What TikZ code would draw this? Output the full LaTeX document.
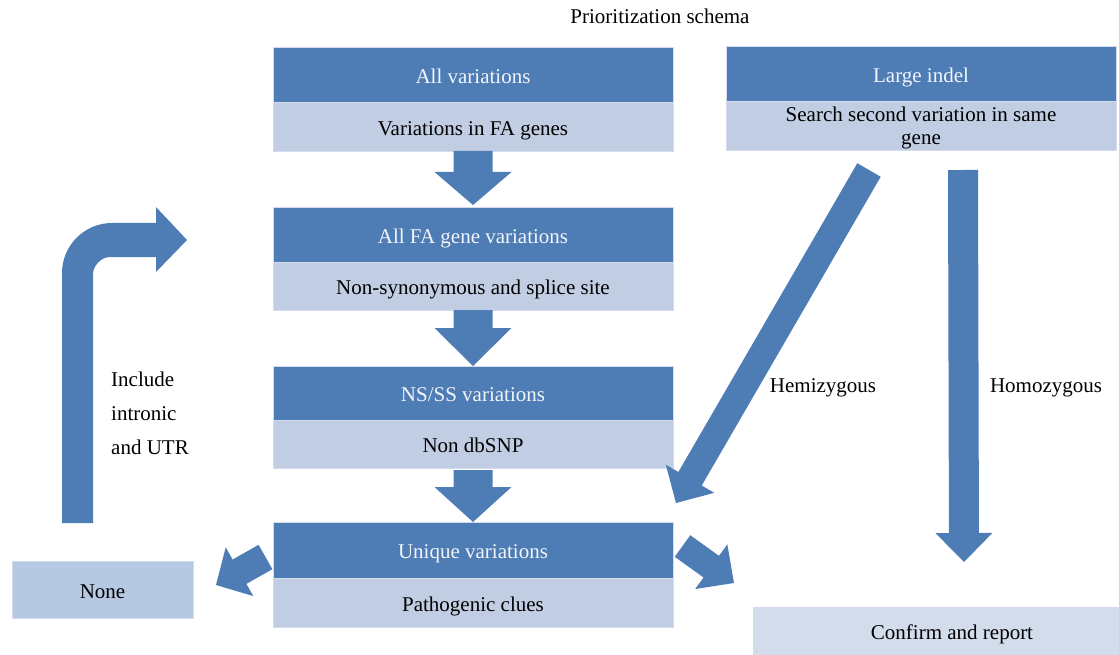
\documentclass[tikz,border=0pt]{standalone}
\usepackage{fontspec}
\setmainfont{Liberation Serif}
\usetikzlibrary{calc}
\definecolor{boxdark}{HTML}{4E7CB5}
\definecolor{boxlight}{HTML}{C1CDE3}
\definecolor{boxnone}{HTML}{B7C9E2}
\definecolor{boxconfirm}{HTML}{D3DCEB}
\definecolor{boxedge}{HTML}{D2DCEC}
\definecolor{darktext}{HTML}{F2F5FA}
\newcommand\blockarrow[5]{% tail, tip, shaft half, head half, head length
  \coordinate (hb) at ($(#2)!#5!(#1)$);
  \fill[arrowfill] ($(#1)!#3!90:(#2)$) -- ($(hb)!#3!90:(#2)$) -- ($(hb)!#4!90:(#2)$)
    -- (#2) -- ($(hb)!#4!-90:(#2)$) -- ($(hb)!#3!-90:(#2)$) -- ($(#1)!#3!-90:(#2)$) -- cycle;}
\begin{document}
\begin{tikzpicture}[x=1pt,y=-1pt,
  txt/.style={font=\fontsize{21}{24}\selectfont},
  darkstep/.style={txt, fill=boxdark, draw=boxedge, line width=0.8pt, text=darktext,
    anchor=north west, inner sep=0pt, outer sep=0pt, minimum width=400pt, minimum height=55pt,
    text height=17.5pt, text depth=0pt},
  lightstep/.style={txt, fill=boxlight, draw=boxedge, line width=0.8pt, text=black,
    anchor=north west, inner sep=0pt, outer sep=0pt, minimum width=400pt, minimum height=49pt,
    text height=17.5pt, text depth=0pt},
  arrowfill/.style={fill=boxdark},
  label/.style={txt, text=black, inner sep=0pt}]
\useasboundingbox (0,0) rectangle (1119,655);

\node[label] (title) at (660,16) {Prioritization schema};

% main column
\node[darkstep] (d1) at (273,47) {All variations};
\node[lightstep] (l1) at (273,102) {Variations in FA genes};
\node[darkstep] (d2) at (273,207) {All FA gene variations};
\node[lightstep, minimum height=48pt] (l2) at (273,262) {Non-synonymous and splice site};
\node[darkstep, minimum height=54pt] (d3) at (273,366) {NS/SS variations};
\node[lightstep, minimum height=48pt] (l3) at (273,420) {Non dbSNP};
\node[darkstep, minimum height=56pt] (d4) at (273,522) {Unique variations};
\node[lightstep] (l4) at (273,578) {Pathogenic clues};

% right column
\node[darkstep, minimum width=390pt] (d5) at (726,46) {Large indel};
\node[txt, fill=boxlight, draw=boxedge, line width=0.8pt, text=black, anchor=north west,
  inner sep=0pt, outer sep=0pt, minimum width=390pt, minimum height=49pt,
  align=center, font=\fontsize{21}{23}\selectfont, text depth=-1pt] (l5) at (726,101) {Search second variation in same\\gene};

% outcome boxes
\node[lightstep, fill=boxnone, minimum width=181pt, minimum height=57pt] (none) at (12,561) {None};
\node[lightstep, fill=boxconfirm, minimum width=366pt, minimum height=48pt] (confirm) at (753,607) {\hspace*{32pt}Confirm and report};

% vertical step arrows
\blockarrow{l1.south}{$(d2.north)+(0,-2)$}{19.5pt}{38.5pt}{33pt}
\blockarrow{l2.south}{d3.north}{19.5pt}{38.5pt}{38pt}
\blockarrow{$(l3.south)+(0,2)$}{d4.north}{19.5pt}{38.5pt}{35pt}

% Hemizygous / Homozygous arrows
\coordinate (hemT) at (869,170);
\coordinate (hemP) at (676,503);
\blockarrow{hemT}{hemP}{13.5pt}{28pt}{28pt}
\coordinate (homT) at (963,170);
\coordinate (homP) at (964,562);
\blockarrow{homT}{homP}{15pt}{28.5pt}{29pt}

% arrows out of Unique variations
\coordinate (leftT) at (265.5,557);
\coordinate (leftP) at (216,585);
\blockarrow{leftT}{leftP}{14pt}{28pt}{27pt}
\coordinate (rightT) at (682.5,546);
\coordinate (rightP) at (734,583);
\blockarrow{rightT}{rightP}{13.3pt}{27.5pt}{28pt}

% bent arrow
\fill[arrowfill] (62,523) -- (62,273) .. controls (62,245.4) and (84.4,223) .. (112,223)
  -- (156,223) -- (156,207) -- (187,240) -- (156,272) -- (156,257) -- (110,257)
  .. controls (100.6,257) and (93,266.4) .. (93,274) -- (93,523) -- cycle;

% labels
\node[label, anchor=west, align=left, font=\fontsize{21}{34}\selectfont] (incl) at (111,413) {Include\\intronic\\and UTR};
\node[label] (hem) at (823,388) {Hemizygous};
\node[label] (hom) at (1046,388) {Homozygous};
\end{tikzpicture}
\end{document}
